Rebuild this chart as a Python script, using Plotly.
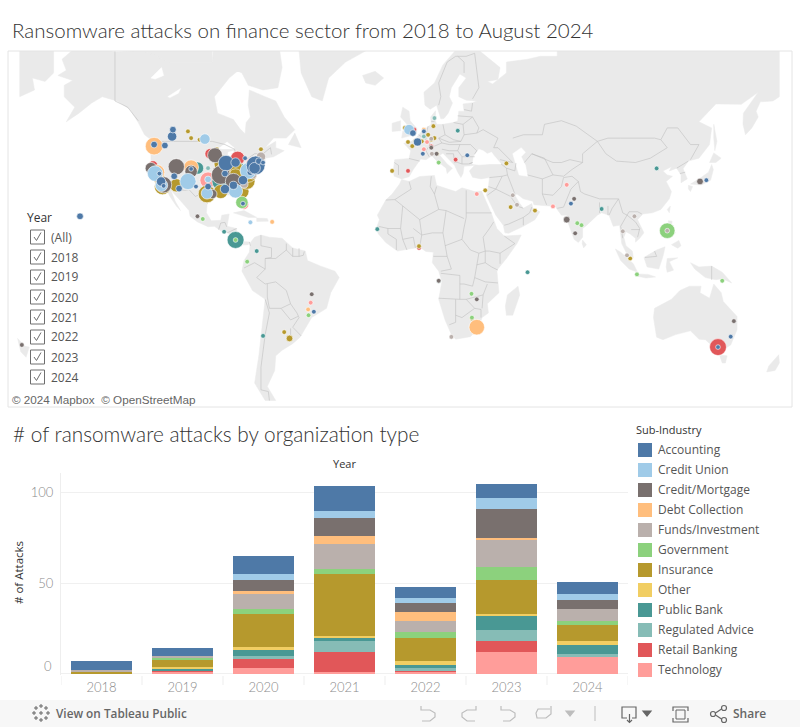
"""
Ransomware attacks on finance sector: map of attacks and yearly stacked bars
"""

import numpy as np
import plotly.graph_objects as go

FONT = "Open Sans"
TITLE_FONT = "Lato"
TEXT_DARK = "#333333"
TEXT_MID = "#555555"
TEXT_GREY = "#8a8a8a"
LAND = "#eaeaea"
BORDER = "#c0c0c0"

# ---- bar chart data ----
YEARS = ["2018", "2019", "2020", "2021", "2022", "2023", "2024"]
SUB_INDUSTRIES = ["Accounting", "Credit Union", "Credit/Mortgage", "Debt Collection",
                  "Funds/Investment", "Government", "Insurance", "Other",
                  "Public Bank", "Regulated Advice", "Retail Banking", "Technology"]
COLORS = ["#4e79a7", "#a0cbe8", "#79706e", "#ffbe7d", "#bab0ac", "#8cd17d",
          "#b6992d", "#f1ce63", "#499894", "#86bcb6", "#e15759", "#ff9d9a"]

ACCOUNTING_BY_YEAR = [5, 4, 10, 14, 6, 8, 7]
CREDIT_UNION_BY_YEAR = [0, 0, 3, 4, 3, 6, 3]
MORTGAGE_BY_YEAR = [0, 0, 6, 10, 5, 16, 5]
DEBT_BY_YEAR = [0, 0, 2, 4, 5, 1, 0]
FUNDS_BY_YEAR = [1, 1, 8, 14, 6, 15, 7]
GOVERNMENT_BY_YEAR = [0, 1, 3, 3, 3, 7, 2]
INSURANCE_BY_YEAR = [1, 4, 18, 34, 13, 19, 9]
OTHER_BY_YEAR = [0, 1, 2, 1, 2, 1, 2]
PUBLIC_BANK_BY_YEAR = [0, 1, 3, 2, 2, 8, 5]
REGULATED_BY_YEAR = [0, 0, 2, 6, 1, 6, 2]
RETAIL_BY_YEAR = [0, 1, 5, 11, 1, 6, 0]
TECHNOLOGY_BY_YEAR = [0, 1, 3, 1, 1, 12, 9]

BY_YEAR = [ACCOUNTING_BY_YEAR, CREDIT_UNION_BY_YEAR, MORTGAGE_BY_YEAR, DEBT_BY_YEAR,
           FUNDS_BY_YEAR, GOVERNMENT_BY_YEAR, INSURANCE_BY_YEAR, OTHER_BY_YEAR,
           PUBLIC_BANK_BY_YEAR, REGULATED_BY_YEAR, RETAIL_BY_YEAR, TECHNOLOGY_BY_YEAR]

# ---- map dots: (lon, lat, attacks) ----
ACCOUNTING_DOTS = [(-114, 50.5, 4), (-113.6, 52.5, 2), (-122.5, 48, 2), (-117.4, 47.7, 2),
                   (-120, 38, 1), (-119.2, 35, 4), (-118, 33.3, 1), (-110.7, 32.2, 2),
                   (-113, 37, 2), (-105, 39.7, 1), (-102.7, 33, 1), (-97, 33, 2),
                   (-88.5, 41.8, 11), (-84, 42, 4), (-89, 38, 2), (-85, 33.5, 3),
                   (-89, 32, 4), (-80.5, 35.5, 4), (-80.5, 26, 1), (-77, 38.5, 2),
                   (-74.5, 41, 16), (-75, 40, 6), (-73, 42.5, 2), (-79.5, 43.5, 1),
                   (-71, 42, 1), (-157.5, 20.5, 2), (-0.2, 51.5, 2), (5, 52, 1),
                   (2, 48.8, 3), (4.5, 45, 1), (25.5, 44.5, 1), (-47, -23.5, 1),
                   (74.5, 26, 1), (138.5, 35.5, 1), (150, -33.8, 1), (144, -37.8, 1)]
CREDIT_UNION_DOTS = [(-98.5, 49.7, 5), (-122, 38, 11), (-119, 33.5, 7), (-106.5, 35, 12),
                     (-97, 35.8, 2), (-97.5, 30.3, 6), (-84, 31.2, 9), (-78, 39, 12),
                     (-88, 41, 2), (-2, 52.5, 5), (-77, 17.8, 1)]
MORTGAGE_DOTS = [(-93.7, 44.5, 10), (-124, 40, 6), (-118, 33.7, 12), (-112, 40.5, 12),
                 (-105, 38.8, 7), (-95, 30, 4), (-91, 37.5, 16), (-85, 35, 12),
                 (-72.5, 41.5, 4), (-102, 20.5, 1), (-48, -15.7, 1), (30, -18, 1),
                 (12, -9.5, 1), (-185, -37, 1), (2.2, 48.7, 2), (8.5, 47, 1), (11, 45, 1),
                 (72.5, 19, 2), (76, 28, 1), (76.5, 12.8, 1), (135.5, 35, 2),
                 (151.5, -27.5, 1)]
DEBT_DOTS = [(-122.5, 47.5, 14), (-121, 38.5, 10), (-105, 40.3, 10), (-66.7, 18, 1),
             (30, -30, 11), (-49.7, -22.5, 1), (5, 52.5, 1)]
FUNDS_DOTS = [(-114, 52.8, 1), (-72, 44, 4), (-80, 34, 3), (-76, 37.5, 3), (8.5, 49.8, 1),
              (8.8, 45, 1), (47, 29.5, 1), (49, 25.5, 1), (18, -33.9, 1), (104.5, 20.5, 1),
              (99, 13.7, 1), (101, 2.5, 1), (120, 14, 1)]
GOVERNMENT_DOTS = [(-81, 26.5, 7), (-99.5, 19.3, 1), (-78.5, -0.5, 1), (-84, 9.7, 1),
                   (-49.5, -25, 1), (27.5, -15.5, 1), (27.7, -26, 1), (12, 42, 1),
                   (77.5, 17.4, 1), (79.5, 16.5, 1), (120, 14, 11), (105.7, -6.5, 1),
                   (146, -9.5, 1)]
INSURANCE_DOTS = [(-106.5, 52, 1), (-105, 50, 1), (-101, 49.5, 1), (-92.8, 46.5, 1),
                  (-120, 36, 6), (-118.5, 33, 12), (-112, 33.5, 8), (-97.5, 30, 14),
                  (-90, 41.5, 14), (-84.5, 40, 12), (-91, 31, 9), (-81, 31, 9),
                  (-78.5, 35, 11), (-78, 38, 14), (-84, 37, 10), (-72, 46.5, 1), (-90, 39, 10),
                  (-4, 53, 1), (9.5, 53.5, 1), (7, 51, 1), (10, 50, 1), (8.5, 49.5, 1),
                  (4, 49, 1), (1, 49, 1), (-0.5, 47.5, 1), (-2.5, 48.8, 1), (11.2, 45, 1),
                  (-10, 39, 1), (44, 41.7, 1), (34, 31.5, 1), (46, 24.5, 1), (57.5, 23, 1),
                  (-61, -32, 1), (-58.5, -34.5, 2), (2.7, 6.8, 1), (102.5, 1, 1), (27.7, -26.4, 1)]
OTHER_DOTS = [(-90, 36, 1), (121.5, 13, 1)]
PUBLIC_BANK_DOTS = [(-102, 40, 7), (-91, 35, 14), (-82, 40, 5), (-84, 9.7, 13),
                    (-89.4, 13.5, 1), (-74, 4.5, 1), (-71, -33.5, 1), (-17, 14.7, 1),
                    (21, 52.2, 1), (89, 23.7, 1), (115, 39.9, 1), (54, -5.5, 1)]
REGULATED_DOTS = [(-97, 40, 1), (10, 55.7, 1), (5, 50.5, 1), (12, -9.7, 1)]
RETAIL_DOTS = [(-96, 45, 5), (-123, 41, 4), (-83, 43.5, 9), (-74, 43, 1), (2.7, 6, 1),
               (-2.5, 39, 1), (20, 43, 1), (8.5, 47.4, 1), (0.5, 52.5, 1), (144, -37.8, 13)]
TECHNOLOGY_DOTS = [(-97, 35.5, 12), (-76, 41.5, 8), (-80, 25.5, 4), (30, 30, 1),
                   (-48.5, -19.5, 1), (72.5, 33.7, 1), (66, 24.8, 1), (6.5, 48.8, 1),
                   (5, 46.5, 1)]

DOTS = [ACCOUNTING_DOTS, CREDIT_UNION_DOTS, MORTGAGE_DOTS, DEBT_DOTS, FUNDS_DOTS,
        GOVERNMENT_DOTS, INSURANCE_DOTS, OTHER_DOTS, PUBLIC_BANK_DOTS, REGULATED_DOTS,
        RETAIL_DOTS, TECHNOLOGY_DOTS]

# ---- land outlines (lon, lat) ----
NORTH_AMERICA = [(-168, 65.5), (-164, 66.5), (-166, 68.5), (-156.5, 71.3), (-141, 69.7), (-128, 70),
                 (-115, 68), (-108, 68), (-95, 68), (-94, 72), (-89, 69), (-82, 69), (-81, 67),
                 (-87, 65), (-94, 61), (-92.5, 57), (-85, 55.3), (-82, 52.8), (-79.5, 51.3),
                 (-79, 54.5), (-77, 56), (-78, 59), (-77.5, 62.5), (-70, 61), (-65, 60), (-61, 56),
                 (-56, 52.5), (-60, 50), (-66, 50), (-70, 47), (-65, 49), (-65, 47), (-61, 46),
                 (-66, 44), (-70, 43.5), (-70, 41.5), (-74, 40.5), (-76, 37), (-76, 35), (-81, 32),
                 (-80, 27), (-80.5, 25), (-82, 27), (-83, 29.5), (-85, 29.7), (-90, 29.5),
                 (-94, 29.5), (-97.3, 27), (-97.8, 22), (-95.5, 18.5), (-91, 18.7), (-90.5, 21),
                 (-87, 21.5), (-88, 16), (-83.5, 15), (-83.5, 11), (-81, 9), (-77.5, 8.8),
                 (-78, 7.5), (-80.5, 7.3), (-83, 8.3), (-85.7, 10), (-87.5, 13), (-91, 14),
                 (-94, 16), (-97, 15.8), (-102, 18), (-105.5, 20.5), (-106, 23), (-109.3, 26.5),
                 (-112.5, 29.5), (-114.7, 31.7), (-112.5, 27), (-110, 23), (-112, 25), (-115, 29),
                 (-117, 32.5), (-120.5, 34.5), (-122.5, 37.5), (-124, 40.5), (-124, 46), (-123, 49),
                 (-127, 51), (-130, 54.5), (-134, 58), (-140, 60), (-147, 61), (-152, 59.5),
                 (-158, 57), (-164, 54.7), (-160, 58.5), (-165, 61), (-165, 63.5), (-161, 64.5)]
CHUKOTKA_WRAP = [(-186, 72), (-170, 72), (-170, 66), (-174, 64.3), (-180, 65), (-179, 62.5), (-186, 61)]
ARCTIC_CANADA = [(-128, 72), (-95, 72), (-95, 68), (-115, 68), (-128, 70)]
BAFFIN = [(-95, 72), (-64, 72), (-62, 67), (-64, 63), (-71, 62.5), (-78, 63.5), (-81, 66), (-87, 67)]
GREENLAND = [(-60, 72), (-54, 70), (-53, 66), (-48, 61), (-43, 60), (-40, 65), (-32, 68), (-22, 70),
             (-20, 72)]
ICELAND = [(-24, 65.5), (-18, 66.3), (-14, 65), (-18, 63.5), (-22.5, 64)]
NEWFOUNDLAND = [(-59, 48), (-56, 51.5), (-53, 47)]
CUBA = [(-85, 22), (-80, 23), (-74, 20), (-78, 20)]
HISPANIOLA = [(-74, 19.7), (-69, 19.5), (-68.5, 18.3), (-74, 18.2)]
SOUTH_AMERICA = [(-77, 8.5), (-75, 11), (-72, 12), (-68, 11), (-62, 10.5), (-57, 6), (-51, 4.5),
                 (-50, 0), (-44, -2.5), (-37, -5), (-35, -8), (-39, -15), (-41, -22), (-48, -26),
                 (-53.5, -34), (-57, -36.5), (-62, -39), (-65, -41), (-65.5, -46), (-69, -51),
                 (-65, -55), (-70, -55), (-75, -50), (-73, -41), (-71.5, -30), (-70, -18),
                 (-76, -14), (-81, -5), (-80, 0), (-77.5, 4)]
AFRICA = [(-5.5, 35.8), (-2, 35), (3, 36.9), (10, 37.3), (11, 33.5), (15, 32.3), (20, 31), (23, 32.5),
          (29, 31), (32.3, 31.2), (34, 28), (37, 21.5), (39.5, 15), (43, 11.5), (51, 12), (49, 8),
          (44, 1), (39.5, -4.5), (40, -10), (40.5, -15), (35, -20), (35.5, -24), (32.5, -26),
          (31, -30), (27, -33.8), (20, -34.8), (18, -33), (15, -27), (12, -18), (13.5, -10),
          (12, -5), (9, -1), (9.5, 4), (6, 4.3), (3, 6.3), (-4, 5.2), (-7.5, 4.5), (-13, 8.5),
          (-16.5, 12.5), (-17.5, 15), (-16, 19), (-17, 21), (-13, 27.5), (-10, 30), (-6.5, 34)]
MADAGASCAR = [(49.5, -12), (50.3, -16), (47, -25), (44, -25), (43.5, -21), (44.5, -16)]
EURASIA = [(-9, 37), (-9.5, 38.7), (-8.8, 43), (-2, 43.4), (-1.2, 46), (-4.5, 48.4), (-1.5, 48.7),
           (1.5, 50.2), (4, 52), (7, 53.5), (8.5, 54), (8.2, 56), (10.5, 57.6), (10.5, 55), (11, 54),
           (14, 54), (19, 54.5), (21, 55), (21.5, 57.5), (24, 57.5), (23.5, 59.3), (28, 59.6),
           (30, 60), (25, 60.2), (21.5, 61), (21.5, 63), (25, 65), (22, 65.8), (18, 63), (17, 61),
           (18.5, 59.5), (16.5, 57), (14.5, 55.6), (13, 55.5), (11, 59), (8, 58), (5.5, 59), (5, 62),
           (10, 64), (14, 67.5), (20, 70), (26, 71), (31, 70), (41, 67), (40, 64.7), (35, 64.3),
           (37.5, 63.8), (44, 66), (44, 68), (54, 68.5), (60, 69), (68, 69), (68, 72), (173, 72),
           (173, 61), (170, 60), (164, 59.8), (162, 57.5), (163, 56), (160, 53), (157, 51),
           (155.8, 54), (156, 57), (163, 62), (160, 61), (155, 59.2), (143, 59.3), (135, 54.7),
           (141, 53), (140, 48), (135, 43.5), (130, 42.5), (127.5, 39.8), (129.5, 36), (126.5, 34.5),
           (126.5, 37.5), (124.5, 40), (121, 39), (122, 40.5), (118, 39), (120, 37.5), (122.5, 37),
           (119.5, 35), (122, 31), (121, 28), (117, 23.5), (113, 22), (108.5, 21.5), (106, 19),
           (109, 13), (107, 10.5), (105, 8.7), (105, 10.5), (102.5, 12.5), (100.5, 13.5), (99.5, 11),
           (100.5, 7), (103.5, 4.5), (104, 1.3), (101, 3), (98.5, 8), (98, 14), (97.5, 16.5),
           (94.5, 16), (92.5, 21), (89, 22), (87, 21), (82, 16.5), (80, 15), (80, 11), (78, 8.5),
           (76, 10), (73, 18), (72.5, 21), (70, 21), (67, 24.8), (61, 25.2), (57, 25.5), (56.5, 27),
           (52, 28), (49, 30), (48, 29.5), (50, 26.5), (52, 24), (56, 26), (56.5, 24), (59.8, 22.5),
           (57.5, 19), (52, 16), (45, 12.8), (43.3, 13), (42.5, 16.5), (39, 21), (35, 28),
           (34.5, 29.5), (35.5, 33), (36, 36.5), (32, 36), (28, 36.6), (26.5, 39), (29, 41), (26, 40.8),
           (24, 40.7), (23.5, 38), (22.5, 36.5), (21, 38.5), (19.5, 41), (14, 45.2), (12.5, 44.5),
           (16, 41.5), (18.5, 40), (16, 38), (15.5, 40), (10.5, 43), (8.8, 44.3), (6, 43), (3.5, 43.2),
           (0, 39.5), (-2, 36.8), (-5.5, 36)]
BRITAIN = [(-5.5, 50), (1.5, 51.2), (1.7, 52.8), (-1.5, 55), (-2, 57.5), (-5, 58.5), (-6, 56), (-3, 54),
           (-5, 52)]
IRELAND = [(-10, 52), (-6, 52.2), (-6, 55), (-10, 54.3)]
HONSHU = [(131, 34), (136, 33.6), (140.5, 35.5), (141.8, 39.5), (141, 41.3), (139.5, 38.5), (136, 36.5)]
HOKKAIDO = [(140, 42), (143, 42), (145.5, 43.5), (142, 45.3)]
KYUSHU = [(130, 33.5), (132, 33), (131, 31), (130, 32)]
SAKHALIN = [(142, 54), (143.5, 49), (142.5, 46), (142, 50)]
TAIWAN = [(121.5, 25), (121, 22), (120, 23.5)]
SRI_LANKA = [(80, 9.7), (81.8, 7.5), (80.5, 6), (79.8, 8)]
LUZON = [(120.5, 18.5), (122.3, 18.3), (122, 15), (124, 13), (120.5, 14)]
MINDANAO = [(122, 7.5), (125.5, 9.5), (126.5, 7), (125, 5.8)]
BORNEO = [(109, 1.5), (115, 5), (119, 6.5), (118, 2), (116, -4), (110.5, -3)]
SUMATRA = [(95.5, 5.5), (98, 4), (104, -1.5), (106, -5.5), (102, -4), (98, 0)]
JAVA = [(105.5, -6.3), (111, -6.5), (114.5, -7.7), (110, -8.2), (106, -7.4)]
SULAWESI = [(119.5, -3), (120, 1), (125, 1.3), (121, -0.5), (123, -4.5), (120, -5.5)]
NEW_GUINEA = [(131, -1), (135, -3), (141, -2.6), (146, -5.5), (150.5, -10.5), (146, -8.5), (143, -9),
              (138, -8), (133, -4)]
AUSTRALIA = [(114, -22), (122, -18), (126, -14), (130.5, -12), (136, -12), (135.5, -15), (140, -17.5),
             (142, -11), (145.5, -15), (146.5, -19), (153, -25.5), (153, -31), (150, -37), (146, -39),
             (143, -38.5), (138, -35), (135, -34.8), (131, -31.5), (124, -33), (118, -35), (115, -34),
             (113.5, -26)]
TASMANIA = [(144.7, -40.7), (148.3, -41), (147.5, -43.5), (146, -43.5)]
NZ_SOUTH = [(172.7, -40.6), (173, -43.5), (171, -46), (167, -46.5), (168, -44.5)]
NZ_NORTH_WRAP = [(-187, -34.5), (-183.5, -37.5), (-181.5, -37.8), (-183, -41.5), (-185.5, -39.5)]

LAND_SHAPES = [NORTH_AMERICA, CHUKOTKA_WRAP, ARCTIC_CANADA, BAFFIN, GREENLAND, ICELAND, NEWFOUNDLAND,
               CUBA, HISPANIOLA, SOUTH_AMERICA, AFRICA, MADAGASCAR, EURASIA, BRITAIN, IRELAND, HONSHU,
               HOKKAIDO, KYUSHU, SAKHALIN, TAIWAN, SRI_LANKA, LUZON, MINDANAO, BORNEO, SUMATRA, JAVA,
               SULAWESI, NEW_GUINEA, AUSTRALIA, TASMANIA, NZ_SOUTH, NZ_NORTH_WRAP]

# inland water, painted white over the land
CASPIAN = [(47, 45), (51, 47), (53, 45.5), (51, 44), (53, 41), (54, 37), (50, 37.5), (49, 40), (47.5, 43)]
BLACK_SEA = [(28, 41.5), (31, 41.2), (36, 41.5), (41.5, 41.5), (38, 44.5), (37, 45.5), (35, 45), (33, 46),
             (31, 46.5), (28.5, 44)]
GREAT_BEAR = [(-124, 65), (-119, 67), (-118, 65.5), (-122, 64.8)]
GREAT_SLAVE = [(-116, 61), (-110, 62.8), (-111, 61.8), (-115, 60.8)]
SUPERIOR = [(-92, 46.7), (-88, 48.8), (-84.7, 47), (-85, 46.6), (-90, 46.6)]
MICHIGAN = [(-87.8, 42), (-87.5, 45.5), (-85, 46), (-86, 42)]
HURON = [(-84, 46), (-80, 45), (-82, 43), (-83.5, 44)]
WATER_SHAPES = [CASPIAN, BLACK_SEA, GREAT_BEAR, GREAT_SLAVE, SUPERIOR, MICHIGAN, HURON]

# country borders, rough polylines
BORDERS = [
    [(-123, 49), (-95, 49), (-89, 48), (-84.5, 46.5), (-82.5, 42.5), (-79, 43), (-75, 45), (-71, 45), (-67.5, 47), (-67, 44.8)],
    [(-141, 70), (-141, 60), (-135, 58.5), (-130, 55)],
    [(-117, 32.5), (-108, 31.5), (-106, 31.8), (-103, 29), (-101, 29.8), (-97.2, 26)],
    [(-92, 14.5), (-91, 17.5), (-89, 17.8), (-88.2, 15.8)], [(-88, 13), (-83.5, 15)], [(-85.7, 11), (-83.6, 11)], [(-83, 8.3), (-82.7, 9.5)],
    [(-72, 12), (-72, 7), (-67, 6), (-67, 1.5), (-70, 1), (-70, -4)], [(-77.5, 8.8), (-77, 7)],
    [(-60, 8), (-60, 5), (-65, 1), (-70, 1)], [(-60, 5), (-57, 2), (-54, 2), (-52, 2.5), (-51.5, 4.3)], [(-57, 6), (-57, 2)], [(-54, 5.8), (-54, 2)],
    [(-80, -3.5), (-75, -1), (-70, -4), (-74, -8), (-70, -11), (-65, -10), (-60, -14), (-58, -20), (-55, -24), (-54, -26), (-57, -30), (-53, -33.5)],
    [(-69, -11), (-69, -17), (-68, -22), (-62.5, -22), (-58, -20)], [(-70, -18), (-68, -24), (-70, -33), (-72, -45), (-72, -52), (-68.5, -52.5), (-68, -55)],
    [(-62.5, -22), (-58, -27), (-54.5, -25.5)], [(-58, -34), (-58, -30.5)],
    # Africa
    [(-2, 35), (-1, 32), (-8.7, 27.7), (-13, 27.5)], [(-8.7, 27.7), (-5, 25), (3, 19), (12, 23.5), (10, 30), (8, 33), (8.5, 37)], [(10, 30), (11, 33)],
    [(25, 31.5), (25, 20), (24, 15.5), (23, 10), (27, 5), (31, 3.5), (34, 4.5), (36, 4.5), (41, 3.5), (41, -1.5)],
    [(25, 22), (37, 22)], [(24, 19.5), (15.5, 23), (12, 23.5)], [(15.5, 23), (14, 13), (9, 13), (4, 12), (3, 19)], [(-5, 25), (-6, 15), (-12, 15), (-16.5, 16)],
    [(-12, 15), (-12, 12.5), (-8, 10), (-8, 5)], [(-6, 15), (-5, 10), (-3, 5)], [(-5, 10), (0, 11), (1, 6)], [(0, 15), (4, 12), (3, 6.5)],
    [(36, 15), (33, 11), (34, 4.5)], [(36, 15), (38, 18)], [(43, 11.5), (48, 8), (41, 3.5)], [(34, 4.5), (34, -1), (37, -3), (40, -4.5)],
    [(14, 13), (15, 7), (16, 2), (9.5, 2)], [(23, 10), (15, 7)], [(16, 2), (18, -4), (13, -5)], [(31, 3.5), (30, -2), (29, -8), (34, -10), (40, -10.5)],
    [(30, -2), (34, -1)], [(13, -6), (22, -7), (22, -11), (24, -11), (28, -12), (29, -8)], [(22, -11), (22, -18), (12, -17.5)], [(22, -18), (25, -18), (33, -16), (35, -11)],
    [(20, -18), (20, -28), (17, -29)], [(25, -18), (29, -22), (32, -22.5), (32, -26)], [(33, -16), (32.5, -22)], [(20, -25), (23, -26), (29, -22)],
    # Europe
    [(-9, 42), (-7, 41), (-7, 37.5)], [(-2, 43.4), (3, 42.5)], [(2.5, 51), (6, 49.5), (8, 49), (7.5, 47.5), (6, 46), (7.5, 44)], [(7, 53.5), (6, 51), (6, 49.5)],
    [(8.5, 54.8), (10, 54.8)], [(14, 54), (15, 51), (12, 50), (13.5, 48.5), (10, 47.5), (7.5, 47.5)], [(15, 51), (19, 49.5), (22.5, 49), (24, 51), (23.5, 54), (19, 54.5)],
    [(12, 50), (17, 48.7), (22.5, 49)], [(13.5, 48.5), (17, 48), (22, 48), (27, 48), (30, 46), (29, 45)], [(22, 48), (21, 46), (23, 44), (29, 44)], [(13.5, 46.5), (17, 46), (21, 46)],
    [(23, 44), (23, 41.5), (26, 41.5), (28, 42)], [(19.5, 42), (21, 42), (23, 41.5)], [(15.5, 45), (19, 45), (19.5, 42)], [(24, 51), (30, 51.5), (33, 52.5), (40, 50), (38, 47)],
    [(23.5, 54), (27, 55.5), (28, 56), (31, 53), (30, 51.5)], [(21, 56.3), (28, 56)], [(24, 57.9), (27.5, 57.5), (28, 59.5)], [(12, 59), (13, 61), (12, 64), (16, 68), (20, 69), (25, 69), (29, 69.5)],
    [(24, 66), (24, 68), (21, 69)], [(29, 69.5), (31, 63), (28, 60.5)],
    # Middle East and Asia
    [(26.5, 41.5), (28, 42)], [(36, 36.5), (42, 37), (44.5, 37.5), (44, 40), (41.5, 41.5)], [(35.5, 33), (39, 32), (42, 37)], [(39, 32), (46, 29), (48, 29.5)], [(35, 29.5), (39, 32)],
    [(44.5, 37.5), (46, 34), (48, 30)], [(44, 40), (48, 39), (48.5, 41.8)], [(46, 29), (49, 25), (52, 24)], [(52, 20), (55, 22), (56, 24.5)], [(52, 16.5), (52, 20), (45, 17), (43, 16.5)],
    [(38, 47), (40, 47), (47, 42), (41, 43)], [(47, 50), (52, 51), (61, 51), (62, 54), (70, 55), (77, 53.5), (87, 49)],
    [(52.5, 42), (56, 45), (62, 43.5), (66, 37.5), (61, 36)], [(54, 37.5), (61, 36), (61, 30), (63, 25.5)], [(61, 30), (66, 29.5), (70, 33), (71, 36.5), (75, 37)],
    [(56, 45), (66, 42), (70, 42), (74, 43), (80, 42)], [(66, 37.5), (71, 37), (75, 39.5), (80, 42)], [(80, 42), (80, 45), (87, 49)], [(87, 49), (92, 50), (98, 50), (104, 50), (107, 50), (114, 50), (117, 49.5), (120, 53), (125, 53), (131, 48), (135, 48), (131, 43)],
    [(87, 49), (91, 45), (96, 42.5), (105, 42), (112, 43.5), (120, 47), (117, 49.5)], [(75, 37), (78, 35), (79, 31), (81, 30), (88, 28), (92, 28), (97, 28)], [(71, 24.5), (74.5, 32), (78, 35)],
    [(68, 24), (71, 24.5)], [(88, 26.5), (88, 22)], [(92, 25), (92, 21)], [(97, 28), (94, 24), (92.5, 21)], [(97, 28), (99, 22), (101, 21), (98, 16), (99, 10.5)], [(101, 21), (105, 18), (107, 15), (106, 11)],
    [(102, 22.5), (106, 22.5), (108, 21.5)], [(101, 21), (102, 22.5)], [(103, 14.5), (107, 14.5)], [(124.5, 40), (130, 42.5)], [(126, 38), (128.5, 38.5)],
    [(114, 4.5), (115, 2), (109.5, 1.5)], [(141, -2.6), (141, -9)],
]

# years in the quick filter
FILTER_ITEMS = ["(All)"] + YEARS

WIDTH, HEIGHT = 800, 727


def px(x):
    return x / WIDTH


def py(y):
    return 1 - y / HEIGHT


def merc(lat):
    return np.log(np.tan(np.pi / 4 + np.radians(np.asarray(lat, dtype=float)) / 2))


def join_lines(shapes, close):
    lons, lats = [], []
    for shape in shapes:
        pts = list(shape) + ([shape[0]] if close else [])
        lons += [p[0] for p in pts] + [None]
        lats += [float(merc(p[1])) for p in pts] + [None]
    return lons, lats


fig = go.Figure()

# ---- map ----
land_x, land_y = join_lines(LAND_SHAPES, True)
fig.add_trace(go.Scatter(x=land_x, y=land_y, mode="lines", fill="toself", fillcolor=LAND,
                         line=dict(color=LAND, width=0.5), xaxis="x2", yaxis="y2",
                         hoverinfo="skip", showlegend=False))
water_x, water_y = join_lines(WATER_SHAPES, True)
fig.add_trace(go.Scatter(x=water_x, y=water_y, mode="lines", fill="toself", fillcolor="white",
                         line=dict(color="white", width=0.5), xaxis="x2", yaxis="y2",
                         hoverinfo="skip", showlegend=False))
border_x, border_y = join_lines(BORDERS, False)
fig.add_trace(go.Scatter(x=border_x, y=border_y, mode="lines", line=dict(color=BORDER, width=0.6),
                         xaxis="x2", yaxis="y2", hoverinfo="skip", showlegend=False))

# accounting is painted last, technology first
for name, color, dots in reversed(list(zip(SUB_INDUSTRIES, COLORS, DOTS))):
    fig.add_trace(go.Scatter(
        x=[d[0] for d in dots], y=[float(merc(d[1])) for d in dots],
        mode="markers", name=name, xaxis="x2", yaxis="y2", showlegend=False,
        marker=dict(size=[d[2] for d in dots], sizemode="area", sizeref=1 / 11, color=color, opacity=1,
                    line=dict(color="rgba(255,255,255,0.6)", width=1)),
        hovertemplate=name + "<extra></extra>",
    ))

# ---- stacked bars, bottom of the stack is the end of the legend ----
for name, color, vals in reversed(list(zip(SUB_INDUSTRIES, COLORS, BY_YEAR))):
    fig.add_trace(go.Bar(x=YEARS, y=vals, name=name, marker_color=color, marker_line_width=0,
                         width=0.75, showlegend=False,
                         hovertemplate="%{x}<br>" + name + ": %{y}<extra></extra>"))

shapes = []
annotations = []


def add_text(x, y, text, size=11.5, color=TEXT_MID, anchor="left", angle=0, weight=None, family=FONT):
    annotations.append(dict(x=px(x), y=py(y), xref="paper", yref="paper", text=text, showarrow=False,
                            xanchor=anchor, yanchor="middle", textangle=angle, borderpad=0,
                            font=dict(family=family, size=size, color=color, weight=weight)))


def add_rect(x0, y0, x1, y1, fill=None, line=None, width=1):
    shapes.append(dict(type="rect", xref="paper", yref="paper", x0=px(x0), x1=px(x1), y0=py(y0), y1=py(y1),
                       fillcolor=fill, line=dict(color=line, width=width if line else 0)))


def add_path(points, color="#8c8c8c", width=1.2, fill=None, closed=False):
    d = "M " + " L ".join(f"{px(x):.5f} {py(y):.5f}" for x, y in points) + (" Z" if closed else "")
    shapes.append(dict(type="path", xref="paper", yref="paper", path=d, fillcolor=fill,
                       line=dict(color=color, width=width)))


# map frame and attribution
add_rect(8, 51, 792, 407, line="#e4e4e4")
add_rect(9, 392, 199, 406, fill="rgba(255,255,255,0.75)")
add_text(11, 399, "© 2024 Mapbox  © OpenStreetMap", size=11.7, color="#666666", family="Liberation Sans")

# titles
add_text(11, 30, "Ransomware attacks on finance sector from 2018 to August 2024", size=20.5, color=TEXT_DARK,
         weight=300, family=TITLE_FONT)
add_text(12, 433, "# of ransomware attacks by organization type", size=20.8, color=TEXT_DARK,
         weight=300, family=TITLE_FONT)

# year filter
add_text(26, 217, "Year", size=12, color=TEXT_DARK)
for i, item in enumerate(FILTER_ITEMS):
    cy = 237 + i * 20
    add_rect(30.5, cy - 7, 44.5, cy + 7, fill="white", line="#6e6e6e")
    add_path([(34, cy), (36.5, cy + 3.5), (41, cy - 4.5)], color="#6e6e6e", width=1)
    add_text(50, cy, item, size=12, color=TEXT_MID)

# legend
add_text(635, 429.5, "Sub-Industry", size=11, color=TEXT_DARK)
for i, (name, color) in enumerate(zip(SUB_INDUSTRIES, COLORS)):
    cy = 450 + i * 20
    add_rect(638, cy - 7, 652, cy + 7, fill=color)
    add_text(657, cy - 0.5, name, size=12, color=TEXT_MID)

# chart furniture
add_text(344, 464, "Year", size=11, color=TEXT_DARK, anchor="center")
add_text(18, 573, "# of Attacks", size=11.5, color=TEXT_DARK, anchor="center", angle=-90)
add_text(53, 666, "0", size=13, color=TEXT_GREY, anchor="right", weight=300, family=TITLE_FONT)
for k in range(8):
    shapes.append(dict(type="line", xref="x", yref="paper", x0=k - 0.5, x1=k - 0.5,
                       y0=py(676), y1=py(685), line=dict(color="#ededed", width=1)))

# toolbar
add_rect(0, 700, 800, 727, fill="#f7f7f7")
add_text(55, 713, "View on Tableau Public", size=11.8, color="#666666", weight=600)
add_text(732, 713, "Share", size=12, color="#666666", weight=600)
for cx, cy in [(41, 706), (41, 720), (34, 713), (48, 713), (36, 708), (46, 708), (36, 718), (46, 718), (41, 713)]:
    add_path([(cx - 2, cy), (cx + 2, cy)], color="#666666", width=1)
    add_path([(cx, cy - 2), (cx, cy + 2)], color="#666666", width=1)
# undo, redo, revert, refresh
add_path([(421, 706), (421, 710), (430, 710), (435, 713), (435, 717), (430, 721), (422, 721)], color="#bdbdbd")
add_path([(476, 706), (476, 710), (467, 710), (462, 713), (462, 717), (467, 721), (475, 721)], color="#bdbdbd")
add_path([(501, 706), (501, 710), (510, 710), (515, 713), (515, 717), (510, 721), (503, 721)], color="#bdbdbd")
add_path([(551, 706), (551, 714), (546, 718), (537, 718), (536, 713), (538, 709), (550, 709)], color="#bdbdbd")
add_path([(566, 711), (574, 711), (570, 716)], color="#bdbdbd", fill="#bdbdbd", closed=True)
add_path([(595, 706), (595, 721)], color="#bdbdbd", width=1)
# device preview, full screen, share
add_path([(627, 718), (622, 718), (622, 707), (636, 707), (636, 718), (632, 718)], color="#666666")
add_path([(629.5, 714), (629.5, 722)], color="#666666")
add_path([(627, 720), (629.5, 722.5), (632, 720)], color="#666666")
add_path([(643, 711), (651, 711), (647, 716)], color="#666666", fill="#666666", closed=True)
add_rect(676, 710, 685, 719, line="#666666")
add_path([(673, 711), (673, 707), (688, 707), (688, 711)], color="#666666")
add_path([(673, 718), (673, 722), (688, 722), (688, 718)], color="#666666")
add_path([(723, 708), (714, 714), (723, 720)], color="#666666")
for cx, cy in [(724, 708), (713, 714), (724, 720)]:
    shapes.append(dict(type="circle", xref="paper", yref="paper", x0=px(cx - 2.5), x1=px(cx + 2.5),
                       y0=py(cy - 2.5), y1=py(cy + 2.5), fillcolor="#f7f7f7", line=dict(color="#666666", width=1.2)))

# scale of the map: pixels per degree and pixels per mercator radian
lon_left = (8 - 413.3) / 2.116
lon_right = (792 - 413.3) / 2.116
merc_bottom = (260.6 - 407) / 121.2
merc_top = (260.6 - 51) / 121.2

fig.update_layout(
    width=WIDTH, height=HEIGHT,
    margin=dict(l=0, r=0, t=0, b=0),
    paper_bgcolor="white", plot_bgcolor="rgba(0,0,0,0)",
    barmode="stack", bargap=0.25,
    showlegend=False,
    font=dict(family=FONT, color=TEXT_MID),
    shapes=shapes, annotations=annotations,
    xaxis=dict(domain=[px(61), px(628)], range=[-0.5, 6.5], type="category", showgrid=False, zeroline=False,
               showline=False, ticks="", ticklabelstandoff=3,
               tickfont=dict(size=13, color=TEXT_GREY, family=TITLE_FONT, weight=300)),
    yaxis=dict(domain=[py(675), py(473)], range=[-0.7, 111], tickvals=[0, 50, 100], ticktext=["", "50", "100"],
               gridcolor="#f0f0f0", gridwidth=1, zeroline=False, showline=True, linecolor="#eeeeee", ticks="",
               ticklabelstandoff=4, tickfont=dict(size=13, color=TEXT_GREY, family=TITLE_FONT, weight=300)),
    xaxis2=dict(domain=[px(8), px(792)], range=[lon_left, lon_right], visible=False, anchor="y2"),
    yaxis2=dict(domain=[py(407), py(51)], range=[merc_bottom, merc_top], visible=False, anchor="x2"),
)

fig.write_html("out.html", post_script="document.body.style.margin='0';document.body.style.overflow='hidden';",
               config=dict(displayModeBar=False))
